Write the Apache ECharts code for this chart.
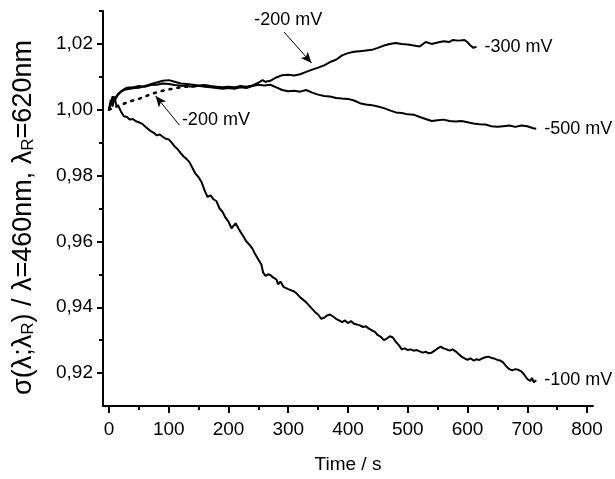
<!DOCTYPE html>
<html>
<head>
<meta charset="utf-8">
<script src="https://cdn.jsdelivr.net/npm/echarts@6/dist/echarts.min.js"></script>
<style>
  html, body { margin: 0; padding: 0; background: #fff; }
  #chart { width: 615px; height: 479px; }
</style>
</head>
<body>
<div id="chart"></div>
<script>
// 时间 (s) 与 σ(λ;λR) 读数
const t100 = [0, 3, 6, 9, 12, 16, 20, 25, 30, 35, 40, 45, 50, 55, 60, 65, 70, 75, 80, 85, 90, 95, 100, 105, 110, 115, 120, 125, 130, 135, 140, 145, 150, 155, 160, 165, 170, 175, 180, 185, 190, 195, 200, 205, 212, 218, 225, 230, 235, 240, 245, 250, 255, 258, 262, 266, 270, 275, 280, 283, 287, 292, 300, 310, 315, 320, 330, 335, 340, 345, 350, 355, 360, 365, 370, 375, 380, 385, 390, 395, 400, 405, 410, 420, 425, 430, 435, 440, 445, 450, 455, 460, 465, 470, 475, 480, 485, 490, 495, 500, 505, 510, 515, 520, 525, 530, 535, 540, 545, 550, 555, 560, 565, 570, 575, 580, 585, 590, 595, 600, 605, 610, 615, 620, 625, 630, 635, 640, 645, 650, 655, 660, 665, 670, 675, 680, 685, 690, 695, 700, 705, 708, 711, 715];
const v100 = [1.000, 1.003, 1.001, 1.004, 1.0015, 1.001, 0.9995, 0.998, 0.9978, 0.997, 0.9972, 0.9965, 0.9962, 0.9958, 0.995, 0.9942, 0.9935, 0.993, 0.9922, 0.9925, 0.9918, 0.9912, 0.991, 0.99, 0.9888, 0.988, 0.9868, 0.9858, 0.985, 0.984, 0.9822, 0.9805, 0.9795, 0.978, 0.9755, 0.9735, 0.974, 0.9728, 0.9722, 0.97, 0.969, 0.9672, 0.966, 0.964, 0.9655, 0.9635, 0.9615, 0.96, 0.959, 0.9578, 0.956, 0.9545, 0.953, 0.9505, 0.9495, 0.95, 0.9498, 0.949, 0.9485, 0.947, 0.9478, 0.9462, 0.9455, 0.9448, 0.944, 0.943, 0.9415, 0.9405, 0.9395, 0.9385, 0.9378, 0.9365, 0.9368, 0.9375, 0.9378, 0.9372, 0.9365, 0.936, 0.9355, 0.936, 0.9352, 0.9358, 0.935, 0.9345, 0.934, 0.9342, 0.9335, 0.933, 0.9325, 0.9315, 0.931, 0.93, 0.9305, 0.9312, 0.9308, 0.9295, 0.9285, 0.9272, 0.9275, 0.927, 0.9272, 0.9268, 0.927, 0.9266, 0.9262, 0.9265, 0.926, 0.9262, 0.9268, 0.9275, 0.928, 0.9275, 0.9272, 0.9268, 0.9272, 0.9266, 0.9258, 0.925, 0.9245, 0.924, 0.9245, 0.9238, 0.9242, 0.924, 0.9245, 0.9248, 0.925, 0.9246, 0.9244, 0.924, 0.9238, 0.9232, 0.922, 0.9212, 0.9208, 0.9212, 0.921, 0.9205, 0.9195, 0.9182, 0.9176, 0.9185, 0.9172, 0.9178];

const t300 = [0, 3, 6, 10, 15, 20, 25, 30, 40, 50, 60, 70, 80, 90, 100, 110, 120, 130, 140, 150, 160, 170, 180, 190, 200, 210, 220, 230, 240, 250, 257, 262, 270, 280, 290, 300, 310, 320, 330, 340, 350, 360, 370, 380, 390, 400, 410, 420, 430, 440, 450, 460, 470, 480, 490, 500, 510, 520, 530, 540, 550, 560, 570, 575, 585, 595, 600, 605, 610, 615];
const v300 = [1.000, 1.002, 1.004, 1.0035, 1.0048, 1.0055, 1.006, 1.0062, 1.0065, 1.0067, 1.0072, 1.0078, 1.0083, 1.0088, 1.009, 1.0085, 1.008, 1.0078, 1.0076, 1.0074, 1.0075, 1.0072, 1.007, 1.0068, 1.007, 1.0068, 1.0072, 1.007, 1.0074, 1.0082, 1.009, 1.0085, 1.0088, 1.0098, 1.0105, 1.0106, 1.0104, 1.0108, 1.0115, 1.0122, 1.0128, 1.0135, 1.0145, 1.0152, 1.0165, 1.0172, 1.0176, 1.0178, 1.018, 1.0182, 1.0188, 1.0195, 1.02, 1.0203, 1.02, 1.0198, 1.0195, 1.0192, 1.0206, 1.02, 1.0204, 1.0208, 1.0206, 1.0212, 1.021, 1.0212, 1.0205, 1.0195, 1.0188, 1.0192];

const t500 = [0, 3, 6, 10, 15, 20, 25, 30, 40, 50, 60, 70, 80, 90, 100, 110, 120, 130, 140, 150, 160, 170, 180, 190, 200, 210, 220, 230, 240, 250, 260, 270, 280, 290, 300, 310, 320, 330, 340, 350, 360, 370, 380, 390, 400, 410, 420, 430, 440, 450, 460, 470, 480, 490, 500, 510, 520, 530, 540, 550, 560, 570, 580, 590, 600, 610, 620, 630, 640, 650, 660, 670, 680, 690, 700, 710, 715];
const v500 = [1.000, 1.002, 1.0035, 1.003, 1.0045, 1.0055, 1.0062, 1.0067, 1.0068, 1.0072, 1.007, 1.0075, 1.0076, 1.008, 1.0078, 1.0075, 1.0073, 1.0072, 1.007, 1.0073, 1.007, 1.0068, 1.0066, 1.0064, 1.0066, 1.0064, 1.0068, 1.0066, 1.0072, 1.0076, 1.0074, 1.0076, 1.0068, 1.006, 1.0056, 1.0058, 1.0055, 1.006, 1.0052, 1.0046, 1.0042, 1.004, 1.0036, 1.0034, 1.0033, 1.0028, 1.002, 1.0016, 1.0014, 1.001, 1.0005, 0.9998, 0.9992, 0.999, 0.9986, 0.9985, 0.9978, 0.9972, 0.9966, 0.9968, 0.997, 0.9966, 0.9964, 0.9966, 0.9962, 0.9958, 0.9956, 0.9955, 0.995, 0.9948, 0.995, 0.9952, 0.9948, 0.9952, 0.995, 0.9944, 0.9942];

// -200 mV 点线
const t200 = [0, 10, 20, 30, 40, 50, 60, 70, 80, 90, 100, 110, 120, 130, 145];
const v200 = [1.000, 1.0008, 1.0015, 1.0022, 1.0028, 1.0033, 1.004, 1.0047, 1.0053, 1.0058, 1.0062, 1.0065, 1.0068, 1.007, 1.0072];

// 刻度
const xMajor = [0, 100, 200, 300, 400, 500, 600, 700, 800];
const xMinor = [50, 150, 250, 350, 450, 550, 650, 750];
const yMajor = [0.92, 0.94, 0.96, 0.98, 1.00, 1.02];
const yMinor = [0.93, 0.95, 0.97, 0.99, 1.01, 1.03];

// 标注 (数据坐标)
const topNote = [300, 1.0273];
const topArrow = [[293, 1.0236], [339, 1.0142]];
const lowNote = [122, 0.997];
const lowArrow = [[118, 0.9953], [78, 1.0042]];

const FONT = "'Liberation Sans', Arial, sans-serif";

function zip(ts, vs) {
  return ts.map((t, i) => [t, vs[i]]);
}

function arrowLine(pts) {
  return [{ coord: pts[0], symbol: 'none' }, { coord: pts[1], symbol: 'arrow', symbolSize: [7, 11] }];
}

const chart = echarts.init(document.getElementById('chart'), null, { renderer: 'canvas' });

const lineBase = {
  type: 'line',
  showSymbol: false,
  symbol: 'none',
  silent: true,
  lineStyle: { color: '#000', width: 2 },
  itemStyle: { color: '#000' }
};

const endLab = (txt) => ({
  show: true,
  formatter: txt,
  color: '#000',
  fontSize: 18,
  fontFamily: FONT,
  distance: 8
});

const noteLab = (pos) => ({
  show: true,
  position: pos,
  distance: 0,
  formatter: '-200 mV',
  color: '#000',
  fontSize: 18,
  fontFamily: FONT
});

const option = {
  animation: false,
  backgroundColor: '#fff',
  grid: { left: 103, right: 22, top: 11, bottom: 72 },
  xAxis: [{
    type: 'value',
    min: -10,
    max: 810,
    name: 'Time / s',
    nameLocation: 'middle',
    nameGap: 49,
    nameTextStyle: { color: '#000', fontSize: 19, fontFamily: FONT },
    splitLine: { show: false },
    axisLine: { onZero: false, lineStyle: { color: '#000', width: 2 } },
    axisTick: { customValues: xMajor, length: 7, inside: false, lineStyle: { color: '#000', width: 2 } },
    axisLabel: { customValues: xMajor, color: '#000', fontSize: 19, fontFamily: FONT, margin: 14 }
  }, {
    type: 'value',
    min: -10,
    max: 810,
    position: 'bottom',
    splitLine: { show: false },
    axisLine: { show: false, onZero: false },
    axisTick: { customValues: xMinor, length: 4, lineStyle: { color: '#000', width: 2 } },
    axisLabel: { show: false }
  }],
  yAxis: [{
    type: 'value',
    min: 0.91,
    max: 1.03,
    name: '{a|σ(λ;λ}{s|R}{a|) / λ=460nm, λ}{s|R}{a|=620nm}',
    nameLocation: 'middle',
    nameRotate: 90,
    nameGap: 66,
    nameTextStyle: {
      color: '#000',
      fontFamily: FONT,
      padding: [0, 18, 0, 0],
      rich: {
        a: { fontSize: 27, fontFamily: FONT, color: '#000', lineHeight: 32, verticalAlign: 'bottom' },
        s: { fontSize: 17, fontFamily: FONT, color: '#000', lineHeight: 16, verticalAlign: 'bottom' }
      }
    },
    splitLine: { show: false },
    axisLine: { onZero: false, lineStyle: { color: '#000', width: 2 } },
    axisTick: { customValues: yMajor, length: 6, lineStyle: { color: '#000', width: 2 } },
    axisLabel: {
      customValues: yMajor,
      color: '#000',
      fontSize: 19,
      fontFamily: FONT,
      margin: 10,
      formatter: v => v.toFixed(2).replace('.', ',')
    }
  }, {
    type: 'value',
    min: 0.91,
    max: 1.03,
    position: 'left',
    splitLine: { show: false },
    axisLine: { show: false, onZero: false },
    axisTick: { customValues: yMinor, length: 4, lineStyle: { color: '#000', width: 2 } },
    axisLabel: { show: false }
  }],
  series: [
    Object.assign({}, lineBase, {
      name: '-200 mV',
      data: zip(t200, v200),
      lineStyle: { color: '#000', width: 2.5, type: [2, 6], cap: 'round' },
      markLine: {
        silent: true,
        lineStyle: { color: '#000', width: 1, type: 'solid' },
        label: { show: false },
        data: [arrowLine(topArrow), arrowLine(lowArrow)]
      },
      markPoint: {
        silent: true,
        symbol: 'circle',
        symbolSize: 0,
        data: [
          { coord: topNote, label: noteLab('inside') },
          { coord: lowNote, label: noteLab('right') }
        ]
      }
    }),
    Object.assign({}, lineBase, { name: '-500 mV', data: zip(t500, v500), endLabel: endLab('-500 mV') }),
    Object.assign({}, lineBase, { name: '-300 mV', data: zip(t300, v300), endLabel: endLab('-300 mV') }),
    Object.assign({}, lineBase, { name: '-100 mV', data: zip(t100, v100), endLabel: endLab('-100 mV') })
  ]
};

chart.setOption(option);
</script>
</body>
</html>
